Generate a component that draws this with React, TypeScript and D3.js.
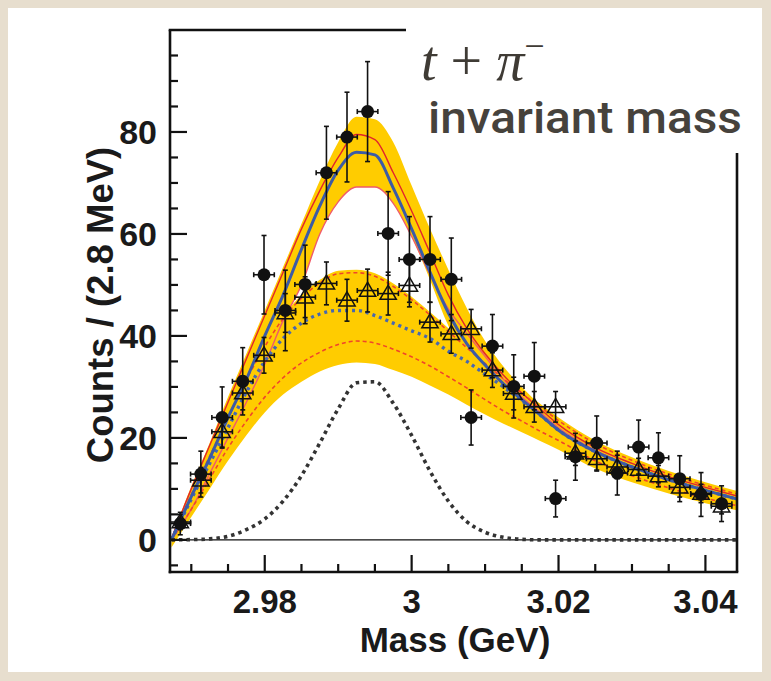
import React from 'react';
import * as d3 from 'd3';

// bin centres (GeV) of the two data sets
const masses = [2.9685, 2.9713, 2.9742, 2.977, 2.9799, 2.9828, 2.9855, 2.9884, 2.9912, 2.994, 2.9968, 2.9997, 3.0025, 3.0054, 3.0081, 3.011, 3.0139, 3.0167, 3.0196, 3.0223, 3.0252, 3.028, 3.0309, 3.0336, 3.0365, 3.0394, 3.0422];
const counts = [3.2, 12.9, 24.0, 31.1, 52.0, 45.0, 50.1, 72.0, 79.0, 84.0, 60.1, 55.0, 55.0, 51.1, 24.0, 38.0, 30.1, 32.1, 8.1, 16.3, 19.0, 13.1, 18.2, 16.1, 12.0, 8.9, 7.1];
const countErr = [2.2, 4.5, 6, 6.6, 7.7, 7.9, 7.7, 9.1, 8.8, 9.8, 8.2, 8.4, 8.4, 8.1, 5.4, 6.2, 6.2, 6.6, 3.6, 4.6, 5.3, 4.3, 5.3, 4.9, 4.5, 4.3, 3.5];
const refCounts = [3.5, 11.7, 21.2, 28.8, 36.2, 44.5, 47.6, 50.3, 47.0, 48.9, 48.3, 49.9, 42.7, 40.4, 41.4, 33.3, 28.7, 26.1, 26.1, 17.0, 15.9, 14.3, 13.8, 12.5, 10.3, 9.1, 6.6];
const refErr = [1.5, 2.5, 3, 3.3, 3.5, 3.8, 4, 4.2, 4.1, 4.2, 4.2, 4.2, 3.9, 3.8, 3.8, 3.4, 3.2, 3, 3, 2.4, 2.4, 2.3, 2.2, 2.1, 1.9, 1.8, 1.5];

// fit curves, read at these masses
const curveMass = [2.9673, 2.97, 2.9725, 2.975, 2.9775, 2.98, 2.9825, 2.985, 2.9875, 2.99, 2.9925, 2.995, 2.9975, 3.0, 3.0025, 3.005, 3.0075, 3.01, 3.0125, 3.015, 3.0175, 3.02, 3.025, 3.03, 3.035, 3.04, 3.0443];
const totalFit = [0, 8.5, 16, 24, 31.5, 40, 48, 57, 65.5, 72.5, 76, 75.5, 69, 61, 52.5, 44.5, 38.5, 34.3, 30.6, 27.5, 24.5, 21.5, 17.3, 14.3, 11.8, 9.7, 8.0];
const totalHigh = [0.5, 10.5, 19, 28, 36.5, 45, 53.5, 62, 70.5, 78, 83, 82.5, 78, 69.5, 61, 53, 45.5, 39, 34, 30, 26.5, 23.3, 18.8, 15.6, 13, 10.8, 9.3];
const totalLow = [0, 6, 13, 20, 27, 34.5, 43, 50, 60, 66.3, 69.2, 69.2, 66, 59.5, 51, 42, 36, 32, 28.5, 25.5, 22.8, 20, 16, 13, 10.5, 8.5, 7];
const redUpper = [0.3, 10, 18.5, 27, 35.5, 44, 52.5, 61, 68.5, 75, 79.5, 78.5, 72, 64.5, 56.3, 48, 41.5, 36.5, 32.3, 28.8, 25.7, 22.6, 18.1, 15, 12.4, 10.3, 8.6];
const redLower = [0, 6, 13, 20, 27, 34.5, 43, 50, 60, 66.3, 69.2, 69.2, 66, 59.5, 52, 45.3, 40.5, 36, 31.5, 28, 25, 22, 17.6, 14.4, 11.8, 9.7, 8.0];
const bkgFit = [0, 8, 15, 22, 29, 35, 39.5, 42.5, 44.3, 45, 45, 44, 42.5, 41, 39.5, 37, 35, 32.5, 30, 27.3, 24.5, 21.5, 17.3, 14.3, 11.8, 9.7, 8.0];
const bkgHigh = [0.5, 9.5, 17, 24.5, 32, 38.5, 44, 48, 51, 52.8, 53, 52.3, 50.3, 47.7, 44.7, 41.5, 38.3, 35.2, 32.2, 29.3, 26.7, 24, 19.5, 16.2, 13.5, 11.3, 9.6];
const bkgLow = [-1.5, 4.5, 10, 15.5, 20.5, 25, 28.5, 31, 33, 34.3, 34.8, 34.5, 33.3, 32, 30.3, 28.5, 26.5, 24.6, 22.8, 21.1, 19.4, 17.7, 14, 11.3, 9.1, 7.2, 5.8];
const redDashLow = [0, 6, 12, 18, 23.3, 28, 31.8, 34.7, 36.8, 38.3, 39, 38.6, 37.4, 35.9, 34.1, 32, 29.8, 27.5, 25.3, 23.3, 21.3, 19.5, 15.5, 12.6, 10.2, 8.2, 6.7];
const signal = [0, 0.05, 0.2, 0.7, 2.0, 4.1, 7.6, 12.6, 19.0, 25.7, 30.8, 31.0, 26.8, 20.5, 13.5, 7.6, 3.6, 1.5, 0.5, 0.1, 0, 0, 0, 0, 0, 0, 0];

const yMajor = [0, 20, 40, 60, 80];
const xMajor = [2.98, 3.0, 3.02, 3.04];
const xLabels = ['2.98', '3', '3.02', '3.04'];

const sans = '"Liberation Sans", Arial, sans-serif';

export default function App() {
  const x = d3.scaleLinear().domain([2.9671, 3.0443]).range([170, 737]);
  const y = d3.scaleLinear().domain([-6.3, 100]).range([572, 30]);
  const [left, right] = x.range();
  const [bottom, top] = y.range();

  const line = (vals: number[]) =>
    d3.line<number>().x((_, i) => x(curveMass[i])).y(v => y(v)).curve(d3.curveMonotoneX)(vals) || '';
  const band = (lo: number[], hi: number[]) =>
    d3.area<number>().x((_, i) => x(curveMass[i])).y0(v => y(v)).y1((_, i) => y(hi[i])).curve(d3.curveMonotoneX)(lo) || '';

  const yMinor = d3.range(-5, 100, 5).filter(v => v % 20 !== 0);
  const xMinor = d3.range(2.97, 3.0441, 0.005).filter(m => !xMajor.some(t => Math.abs(t - m) < 1e-6));
  const halfBin = 0.0014;

  const errBar = (m: number, v: number, e: number, key: string) => {
    const cx = x(m), cy = y(v);
    const x0 = x(m - halfBin), x1 = x(m + halfBin);
    const y0 = y(v + e), y1 = y(v - e);
    return (
      <g key={key} stroke="#111" strokeWidth={1.6}>
        <line x1={x0} x2={x1} y1={cy} y2={cy} />
        <line x1={x0} x2={x0} y1={cy - 2.5} y2={cy + 2.5} />
        <line x1={x1} x2={x1} y1={cy - 2.5} y2={cy + 2.5} />
        <line x1={cx} x2={cx} y1={y0} y2={y1} />
        <line x1={cx - 2.5} x2={cx + 2.5} y1={y0} y2={y0} />
        <line x1={cx - 2.5} x2={cx + 2.5} y1={y1} y2={y1} />
      </g>
    );
  };

  const tri = d3.symbol().type(d3.symbolTriangle).size(115)() || '';

  return (
    <svg width={771} height={681} style={{ position: 'absolute', left: 0, top: 0 }}>
      <rect width={771} height={681} fill="#e7dece" />
      <rect x={8} y={8} width={754} height={664} fill="#ffffff" />
      <defs>
        <clipPath id="plot">
          <rect x={left} y={top} width={right - left} height={bottom - top} />
        </clipPath>
      </defs>

      <g clipPath="url(#plot)">
        <path d={band(totalLow, totalHigh)} fill="#ffcc00" />
        <path d={band(bkgLow, bkgHigh)} fill="#ffcc00" />
        <line x1={left} x2={right} y1={y(0)} y2={y(0)} stroke="#111" strokeWidth={1.4} />
        <path d={line(redLower)} fill="none" stroke="#f05a6a" strokeWidth={1.4} />
        <path d={line(redUpper)} fill="none" stroke="#e3242b" strokeWidth={1.4} />
        <path d={line(bkgHigh.map(v => v - 0.6))} fill="none" stroke="#f0452a" strokeWidth={1.6} strokeDasharray="4,3" />
        <path d={line(redDashLow)} fill="none" stroke="#f0452a" strokeWidth={1.6} strokeDasharray="4,3" />
        <path d={line(bkgFit)} fill="none" stroke="#4767b0" strokeWidth={3.4} strokeDasharray="3,4" />
        <path d={line(totalFit)} fill="none" stroke="#3c5ba6" strokeWidth={3} />
        <path d={line(signal)} fill="none" stroke="#333" strokeWidth={3.6} strokeDasharray="3.5,4" />
      </g>

      {masses.map((m, i) => errBar(m, refCounts[i], refErr[i], 'te' + i))}
      {masses.map((m, i) => (
        <path key={'t' + i} d={tri} transform={`translate(${x(m)},${y(refCounts[i]) + 1})`} fill="none" stroke="#111" strokeWidth={1.5} />
      ))}
      {masses.map((m, i) => errBar(m, counts[i], countErr[i], 'ce' + i))}
      {masses.map((m, i) => (
        <circle key={'c' + i} cx={x(m)} cy={y(counts[i])} r={6.5} fill="#111" />
      ))}

      {/* frame */}
      <g stroke="#111" strokeWidth={2.6} fill="none">
        <line x1={left} x2={left} y1={top} y2={bottom + 1.3} />
        <line x1={left - 1.3} x2={right + 1.3} y1={bottom} y2={bottom} />
        <line x1={left - 1.3} x2={right} y1={top} y2={top} />
        <line x1={right} x2={right} y1={top} y2={bottom} />
      </g>
      <g stroke="#111" strokeWidth={2.2}>
        {yMajor.map(v => <line key={'ym' + v} x1={left} x2={left + 17} y1={y(v)} y2={y(v)} />)}
        {yMinor.map(v => <line key={'yn' + v} x1={left} x2={left + 8} y1={y(v)} y2={y(v)} />)}
        {xMajor.map(m => <line key={'xm' + m} x1={x(m)} x2={x(m)} y1={bottom} y2={bottom - 17} />)}
        {xMinor.map(m => <line key={'xn' + m} x1={x(m)} x2={x(m)} y1={bottom} y2={bottom - 8} />)}
      </g>

      <g fontFamily={sans} fontWeight="bold" fill="#1a1a1a">
        {yMajor.map(v => (
          <text key={'yl' + v} x={157} y={y(v)} dy="0.36em" textAnchor="end" fontSize={34}>{v}</text>
        ))}
        {xMajor.map((m, i) => (
          <text key={'xl' + m} x={x(m)} y={613} textAnchor="middle" fontSize={33}>{xLabels[i]}</text>
        ))}
        <text x={455} y={652} textAnchor="middle" fontSize={35}>Mass (GeV)</text>
        <text transform="translate(113,305) rotate(-90)" textAnchor="middle" fontSize={36.5}>Counts / (2.8 MeV)</text>
      </g>

      {/* annotation box */}
      <rect x={406} y={10} width={356} height={143} fill="#ffffff" />
      <text x={421} y={80} fontFamily='"Liberation Serif", serif' fontSize={56} fill="#3f3b35">
        <tspan fontStyle="italic">t</tspan>
        <tspan> + </tspan>
        <tspan fontStyle="italic">π</tspan>
        <tspan dy={-22} fontSize={36}>−</tspan>
      </text>
      <text x={428} y={133} fontFamily='Roboto, "Noto Sans", sans-serif' fontWeight={500} fontSize={44} fill="#46423c" textLength={314} lengthAdjust="spacingAndGlyphs">invariant mass</text>
    </svg>
  );
}
